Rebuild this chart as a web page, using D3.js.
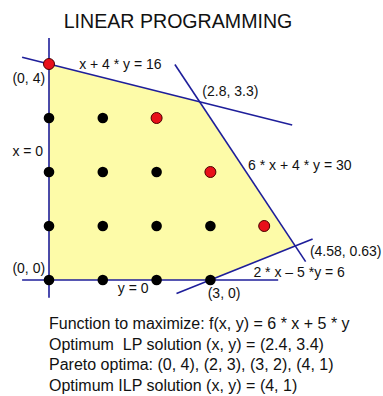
<!DOCTYPE html>
<html>
<head>
<meta charset="utf-8">
<script src="https://cdn.jsdelivr.net/npm/d3@7"></script>
<style>
  body { margin: 0; background: #fff; }
  svg { display: block; font-family: "Liberation Sans", Arial, sans-serif; }
</style>
</head>
<body>
<svg id="chart" width="383" height="396"></svg>
<script>
// feasible region corners
const regionX = [0, 0, 2.8, 4.58, 3];
const regionY = [0, 4, 3.3, 0.63, 0];

// constraint lines: [x1, y1, x2, y2]
const lineSegs = [
  [0, -0.33, 0, 4.48],          // x = 0
  [-0.5, 0, 4.26, 0],           // y = 0
  [-0.5, 4.125, 4.52, 2.87],    // x + 4y = 16
  [2.34, 3.99, 4.77, 0.34],     // 6x + 4y = 30
  [2.37, -0.25, 4.9, 0.76]      // 2x - 5y = 6
];

// integer points, red = pareto optima
const pointX = [0, 1, 2, 3, 0, 1, 2, 3, 4, 0, 1, 2, 3, 0, 1, 2, 0];
const pointY = [0, 0, 0, 0, 1, 1, 1, 1, 1, 2, 2, 2, 2, 3, 3, 3, 4];
const pointRed = [0, 0, 0, 0, 0, 0, 0, 0, 1, 0, 0, 0, 1, 0, 0, 1, 1];

// labels: text, x, y (data coords)
const labelText = ['(0, 4)', 'x + 4 * y = 16', '(2.8, 3.3)', 'x = 0', '6 * x + 4 * y = 30',
  '(4.58, 0.63)', '2 * x \u2013 5 *y = 6', '(0, 0)', 'y = 0', '(3, 0)'];
const labelX = [-0.68, 0.56, 2.85, -0.68, 3.7, 4.85, 3.8, -0.68, 1.28, 2.95];
const labelY = [3.65, 3.9, 3.4, 2.3, 2.03, 0.44, 0.05, 0.13, -0.24, -0.33];

const notes = [
  'Function to maximize: f(x, y) = 6 * x + 5 * y',
  'Optimum  LP solution (x, y) = (2.4, 3.4)',
  'Pareto optima: (0, 4), (2, 3), (3, 2), (4, 1)',
  'Optimum ILP solution (x, y) = (4, 1)'
];

const svg = d3.select('#chart');
const x = d3.scaleLinear().domain([0, 5]).range([49, 318]);
const y = d3.scaleLinear().domain([0, 5]).range([280, 10]);

svg.append('text')
  .attr('x', 178)
  .attr('y', 28)
  .attr('text-anchor', 'middle')
  .attr('font-size', 19.6)
  .attr('fill', '#111')
  .text('LINEAR PROGRAMMING');

svg.append('polygon')
  .attr('points', regionX.map((d, i) => x(d) + ',' + y(regionY[i])).join(' '))
  .attr('fill', '#fdfba8');

svg.append('g')
  .selectAll('line')
  .data(lineSegs)
  .join('line')
  .attr('x1', d => x(d[0]))
  .attr('y1', d => y(d[1]))
  .attr('x2', d => x(d[2]))
  .attr('y2', d => y(d[3]))
  .attr('stroke', '#1e1e9a')
  .attr('stroke-width', 1.6);

svg.append('g')
  .selectAll('circle')
  .data(pointX)
  .join('circle')
  .attr('cx', d => x(d))
  .attr('cy', (d, i) => y(pointY[i]))
  .attr('r', (d, i) => pointRed[i] ? 5.5 : 5.3)
  .attr('fill', (d, i) => pointRed[i] ? '#e8101a' : '#000')
  .attr('stroke', (d, i) => pointRed[i] ? '#4a0000' : 'none')
  .attr('stroke-width', 1);

svg.append('g')
  .selectAll('text')
  .data(labelText)
  .join('text')
  .attr('x', (d, i) => x(labelX[i]))
  .attr('y', (d, i) => y(labelY[i]))
  .attr('font-size', 14)
  .attr('fill', '#111')
  .style('white-space', 'pre')
  .text(d => d);

svg.append('g')
  .selectAll('text')
  .data(notes)
  .join('text')
  .attr('x', 49)
  .attr('y', (d, i) => 329 + i * 20.6)
  .attr('font-size', 16)
  .attr('fill', '#111')
  .style('white-space', 'pre')
  .text(d => d);
</script>
</body>
</html>
